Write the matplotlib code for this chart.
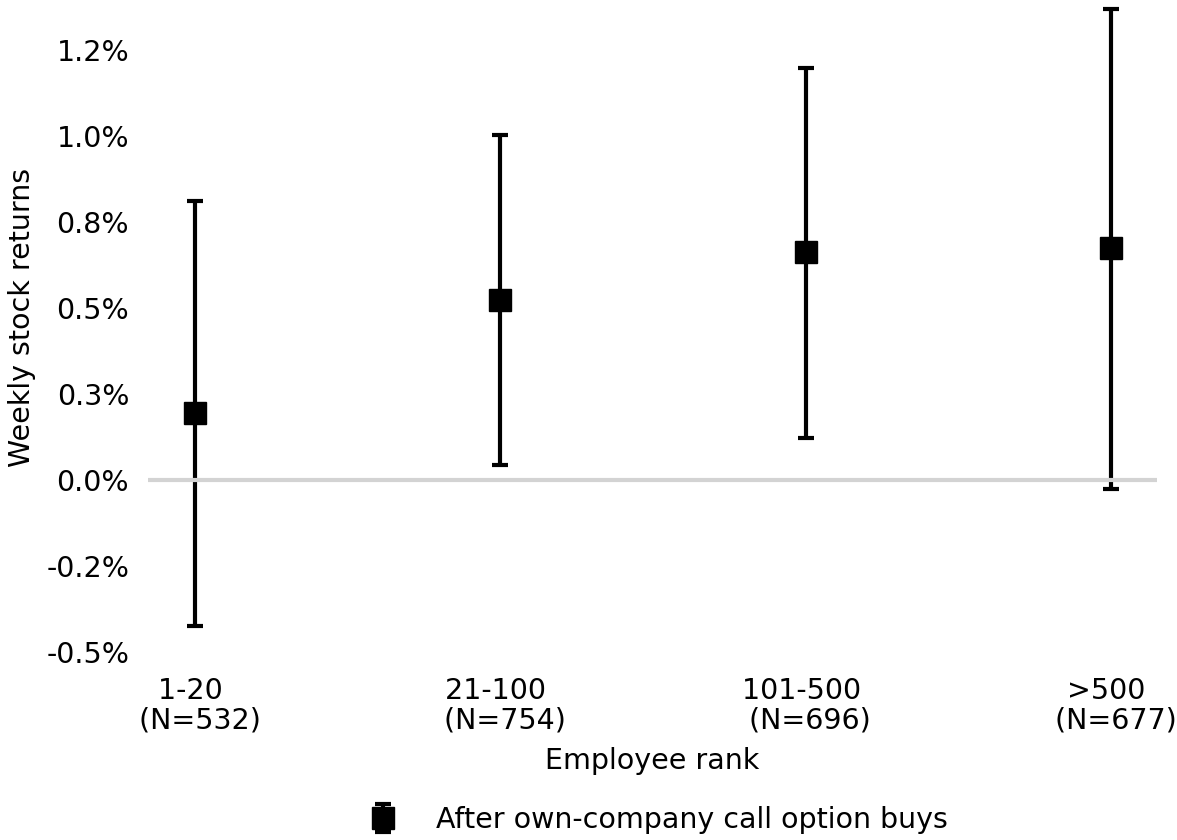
import numpy as np
import matplotlib
matplotlib.use("Agg")
import matplotlib.pyplot as plt

# weekly returns (%) by employee rank, with 95% CI bounds
ranks = ['1-20 \n (N=532)', '21-100 \n (N=754)', '101-500 \n (N=696)', '>500 \n (N=677)']
mean_ret = [0.195, 0.523, 0.663, 0.674]
ci_low = [-0.424, 0.044, 0.122, -0.026]
ci_high = [0.811, 1.003, 1.198, 1.369]

ytick_vals = [-0.5, -0.25, 0.0, 0.25, 0.5, 0.75, 1.0, 1.25]
ytick_labels = ['-0.5%', '-0.2%', '0.0%', '0.3%', '0.5%', '0.8%', '1.0%', '1.2%']

FS = 20.5

fig = plt.figure(figsize=(11.77, 8.4), dpi=100)
ax = fig.add_axes([0.1257, 0.2036, 0.8573, 0.79])

x = np.arange(len(ranks))
mean_ret = np.array(mean_ret)
yerr = np.vstack([mean_ret - np.array(ci_low), np.array(ci_high) - mean_ret])

ax.errorbar(x, mean_ret, yerr=yerr, fmt='s', color='black', ecolor='black',
            markersize=16.5, elinewidth=3, capsize=6, capthick=3,
            label='After own-company call option buys', zorder=2)
ax.axhline(0, color='#d3d3d3', linewidth=3, zorder=3)

ax.set_xlim(-0.154, 3.15)
ax.set_ylim(-0.55, 1.38)
ax.set_xticks(x)
ax.set_xticklabels(ranks, fontsize=FS, linespacing=1.05)
ax.set_yticks(ytick_vals)
ax.set_yticklabels(ytick_labels, fontsize=FS)
ax.tick_params(axis='x', length=0, pad=6)
ax.tick_params(axis='y', length=0, pad=13.5)
for s in ax.spines.values():
    s.set_visible(False)

ax.set_xlabel('Employee rank', fontsize=FS, labelpad=9)
ax.set_ylabel('Weekly stock returns', fontsize=FS)
ax.yaxis.set_label_coords(-0.111, 0.529)

fig.legend(loc='center', bbox_to_anchor=(0.553, 0.024), frameon=False,
           fontsize=FS, handletextpad=0.86)

fig.savefig('out.png', dpi=100)
